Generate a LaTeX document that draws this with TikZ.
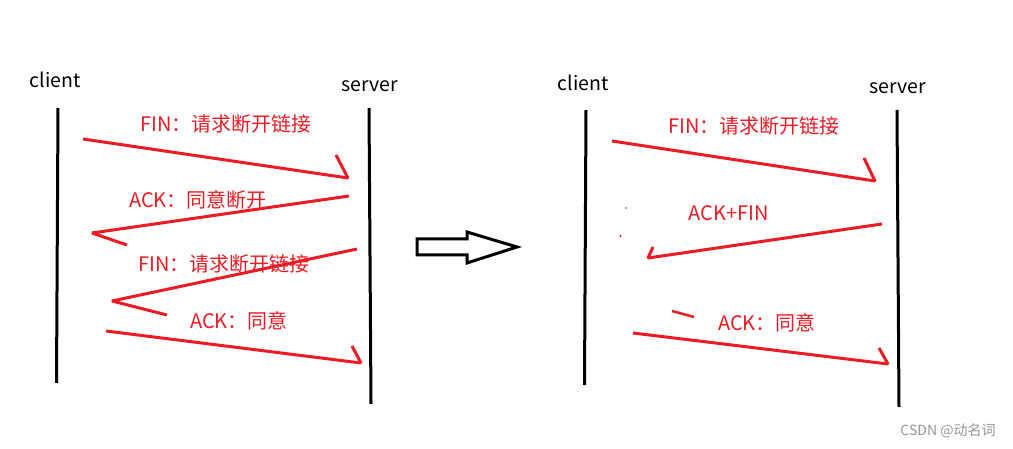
\documentclass[tikz,border=0pt]{standalone}
\usepackage{fontspec}
\setmainfont{Noto Sans CJK SC}
\definecolor{pred}{RGB}{237,28,36}
\definecolor{wm}{RGB}{150,150,150}
\begin{document}
\begin{tikzpicture}[x=1pt,y=-1pt,
  life/.style={line width=3pt,black},
  msg/.style={line width=3pt,pred,line join=bevel},
  lbl/.style={text=pred,font=\fontsize{20}{23}\selectfont,inner sep=0pt},
  who/.style={text=black,font=\fontsize{19.5}{22}\selectfont,inner sep=0pt}]
\useasboundingbox (0,0) rectangle (1013,449);
\fill[white] (0,0) rectangle (1013,449);
% ---------- left diagram ----------
\node[who] (lc) at (55,80) {client};
\node[who] (ls) at (370,86) {server};
\coordinate (lc1) at (58,108); \coordinate (lc2) at (56.5,383);
\coordinate (ls1) at (369,108); \coordinate (ls2) at (371,404);
\draw[life] (lc1) -- (lc2);
\draw[life] (ls1) -- (ls2);
\coordinate (a1s) at (83,139); \coordinate (a1t) at (348,178); \coordinate (a1h) at (336,155);
\coordinate (a2s) at (349,196); \coordinate (a2t) at (92,233); \coordinate (a2h) at (127,245);
\coordinate (a3s) at (357,249); \coordinate (a3t) at (112,301); \coordinate (a3h) at (167,315);
\coordinate (a4s) at (106,331); \coordinate (a4t) at (361,363); \coordinate (a4h) at (352,346);
\draw[msg] (a1s) -- (a1t) -- (a1h);
\draw[msg] (a2s) -- (a2t) -- (a2h);
\draw[msg] (a3s) -- (a3t) -- (a3h);
\draw[msg] (a4s) -- (a4t) -- (a4h);
\node[lbl] (l1) at (226,124) {FIN：请求断开链接};
\node[lbl] (l2) at (198,200) {ACK：同意断开};
\node[lbl] (l3) at (224,264) {FIN：请求断开链接};
\node[lbl] (l4) at (239,321) {ACK：同意};
% ---------- block arrow ----------
\draw[line width=3pt,black,line join=miter] (417,239) -- (467,239) -- (467,232) -- (517,247) -- (467,263) -- (467,255) -- (417,255) -- cycle;
% ---------- right diagram ----------
\node[who] (rc) at (583,83) {client};
\node[who] (rs) at (898,88) {server};
\coordinate (rc1) at (586,110); \coordinate (rc2) at (584.5,385);
\coordinate (rs1) at (897,110); \coordinate (rs2) at (899,407);
\draw[life] (rc1) -- (rc2);
\draw[life] (rs1) -- (rs2);
\coordinate (b1s) at (612,141); \coordinate (b1t) at (875,181); \coordinate (b1h) at (864,158);
\coordinate (b2s) at (882,224); \coordinate (b2t) at (648,258); \coordinate (b2h) at (653,247);
\coordinate (b3s) at (633,333); \coordinate (b3t) at (888,364); \coordinate (b3h) at (879,348);
\draw[msg] (b1s) -- (b1t) -- (b1h);
\draw[msg] (b2s) -- (b2t) -- (b2h);
\draw[msg] (b3s) -- (b3t) -- (b3h);
\coordinate (e1) at (672,311); \coordinate (e2) at (694,317);
\draw[line width=2.5pt,pred] (e1) -- (e2);
\fill[pred] (626,208) circle (0.8);
\fill[pred] (620.5,236) circle (1.2);
\node[lbl] (r1) at (754,126) {FIN：请求断开链接};
\node[lbl] (r2) at (729,213) {ACK+FIN};
\node[lbl] (r3) at (767,323) {ACK：同意};
% ---------- watermark ----------
\node[text=wm,font=\fontsize{14}{16}\selectfont,inner sep=0pt] (wmk) at (948,431) {CSDN @动名词};
\end{tikzpicture}
\end{document}
